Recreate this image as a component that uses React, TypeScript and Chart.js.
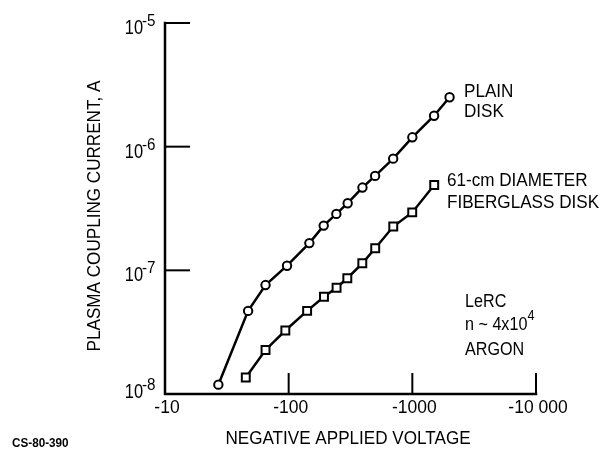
import React, { useEffect, useRef } from "react";
import { Chart, registerables } from "chart.js";

Chart.register(...registerables);

// Data (magnitude of negative applied voltage, V; current, A)
const plainVoltage = [27, 47, 65, 97, 147, 192, 243, 300, 395, 500, 700, 1000, 1500, 2000];
const plainCurrent = [1.19e-8, 4.7e-8, 7.6e-8, 1.09e-7, 1.66e-7, 2.3e-7, 2.86e-7, 3.49e-7, 4.67e-7, 5.8e-7, 8.0e-7, 1.19e-6, 1.78e-6, 2.51e-6];
const fiberVoltage = [45, 65, 94, 141, 193, 244, 298, 394, 501, 701, 998, 1503];
const fiberCurrent = [1.36e-8, 2.27e-8, 3.26e-8, 4.7e-8, 6.12e-8, 7.24e-8, 8.63e-8, 1.14e-7, 1.51e-7, 2.26e-7, 2.94e-7, 4.9e-7];

const xTicks = [10, 100, 1000, 10000];
const xTickLabels = ["-10", "-100", "-1000", "-10 000"];
const yTicks = [1e-8, 1e-7, 1e-6, 1e-5];
const yTickExponents = ["-8", "-7", "-6", "-5"];

const xTitle = "NEGATIVE APPLIED VOLTAGE";
const yTitle = "PLASMA COUPLING CURRENT, A";
const plainLabel = ["PLAIN", "DISK"];
const fiberLabel = ["61-cm DIAMETER", "FIBERGLASS DISK"];
const noteLines = ["LeRC", "n ~ 4x10", "ARGON"];
const noteExp = "4";
const figId = "CS-80-390";

const FONT = '"Liberation Sans", Arial, sans-serif';

// draw text, optionally compressed horizontally (sx < 1) to mimic the narrow typeface
function txt(
  ctx: CanvasRenderingContext2D,
  s: string,
  x: number,
  y: number,
  size: number,
  align: CanvasTextAlign = "left",
  sx = 1,
  weight = "normal"
) {
  ctx.save();
  ctx.font = `${weight} ${size}px ${FONT}`;
  ctx.textAlign = align;
  ctx.textBaseline = "alphabetic";
  ctx.fillStyle = "#000";
  ctx.translate(x, y);
  ctx.scale(sx, 1);
  ctx.fillText(s, 0, 0);
  ctx.restore();
}

const decorPlugin = {
  id: "decor",
  beforeDatasetsDraw(chart: any) {
    const ctx: CanvasRenderingContext2D = chart.ctx;
    const xs = chart.scales.x;
    const ys = chart.scales.y;
    const left = xs.getPixelForValue(xTicks[0]);
    const right = xs.getPixelForValue(xTicks[xTicks.length - 1]);
    const bottom = ys.getPixelForValue(yTicks[0]);
    const top = ys.getPixelForValue(yTicks[yTicks.length - 1]);
    ctx.save();
    ctx.strokeStyle = "#000";
    ctx.lineWidth = 2.5;
    ctx.lineCap = "square";
    ctx.beginPath();
    ctx.moveTo(left, top);
    ctx.lineTo(left, bottom);
    ctx.lineTo(right, bottom);
    ctx.stroke();
    ctx.lineWidth = 2;
    ctx.lineCap = "butt";
    for (let i = 1; i < yTicks.length; i++) {
      const y = ys.getPixelForValue(yTicks[i]);
      ctx.beginPath();
      ctx.moveTo(left, y);
      ctx.lineTo(left + 25, y);
      ctx.stroke();
    }
    for (let i = 1; i < xTicks.length; i++) {
      const x = xs.getPixelForValue(xTicks[i]);
      ctx.beginPath();
      ctx.moveTo(x, bottom);
      ctx.lineTo(x, bottom - 21);
      ctx.stroke();
    }
    ctx.restore();
  },
  afterDraw(chart: any) {
    const ctx: CanvasRenderingContext2D = chart.ctx;
    const xs = chart.scales.x;
    const ys = chart.scales.y;
    const left = xs.getPixelForValue(xTicks[0]);
    const bottom = ys.getPixelForValue(yTicks[0]);
    // y tick labels 10^n
    yTicks.forEach((v, i) => {
      const y = ys.getPixelForValue(v);
      const base = i === 0 ? y + 4 : y + 11;
      txt(ctx, "10", left - 22, base, 20, "right", 0.82);
      txt(ctx, yTickExponents[i], left - 23, base - 8, 16, "left", 0.95);
    });
    // x tick labels
    xTicks.forEach((v, i) => {
      const x = xs.getPixelForValue(v);
      txt(ctx, xTickLabels[i], x + 2, bottom + 19, 19, "center", 0.92);
    });
    // axis titles
    txt(ctx, xTitle, 348, 444, 19, "center", 0.9);
    ctx.save();
    ctx.translate(100, 216);
    ctx.rotate(-Math.PI / 2);
    txt(ctx, yTitle, 0, 0, 19, "center", 0.9);
    ctx.restore();
    // series labels
    txt(ctx, plainLabel[0], 464, 97, 19, "left", 0.9);
    txt(ctx, plainLabel[1], 464, 117, 19, "left", 0.9);
    txt(ctx, fiberLabel[0], 447, 186, 19, "left", 0.9);
    txt(ctx, fiberLabel[1], 447, 208, 19, "left", 0.9);
    // note
    txt(ctx, noteLines[0], 465, 307, 19, "left", 0.85);
    txt(ctx, noteLines[1], 465, 330, 19, "left", 0.85);
    ctx.font = `normal 19px ${FONT}`;
    const w = ctx.measureText(noteLines[1]).width * 0.85;
    txt(ctx, noteExp, 465 + w, 320, 14, "left", 0.9);
    txt(ctx, noteLines[2], 465, 355, 19, "left", 0.85);
    // figure id
    txt(ctx, figId, 12, 447, 13, "left", 0.9, "bold");
  },
};

export default function App() {
  const ref = useRef<HTMLCanvasElement | null>(null);
  useEffect(() => {
    if (!ref.current) return;
    const chart = new Chart(ref.current, {
      type: "scatter",
      data: {
        datasets: [
          {
            label: "PLAIN DISK",
            data: plainVoltage.map((v, i) => ({ x: v, y: plainCurrent[i] })),
            showLine: true,
            borderColor: "#000",
            borderWidth: 2.5,
            pointStyle: "circle",
            pointRadius: 4.2,
            pointBorderWidth: 2,
            pointBackgroundColor: "#fff",
            pointBorderColor: "#000",
            clip: false,
          },
          {
            label: "61-cm DIAMETER FIBERGLASS DISK",
            data: fiberVoltage.map((v, i) => ({ x: v, y: fiberCurrent[i] })),
            showLine: true,
            borderColor: "#000",
            borderWidth: 2.5,
            pointStyle: "rect",
            pointRadius: 5.6,
            pointBorderWidth: 2,
            pointBackgroundColor: "#fff",
            pointBorderColor: "#000",
            clip: false,
          },
        ],
      },
      options: {
        responsive: false,
        animation: false,
        events: [],
        layout: { padding: { left: 165, right: 70, top: 23, bottom: 60 } },
        plugins: { legend: { display: false }, tooltip: { enabled: false } },
        scales: {
          x: { type: "logarithmic", min: xTicks[0], max: xTicks[xTicks.length - 1], display: false },
          y: { type: "logarithmic", min: yTicks[0], max: yTicks[yTicks.length - 1], display: false },
        },
      },
      plugins: [decorPlugin],
    });
    return () => chart.destroy();
  }, []);
  return (
    <div style={{ position: "absolute", left: 0, top: 0, width: 606, height: 454, background: "#fff" }}>
      <canvas ref={ref} width={606} height={454} />
    </div>
  );
}
